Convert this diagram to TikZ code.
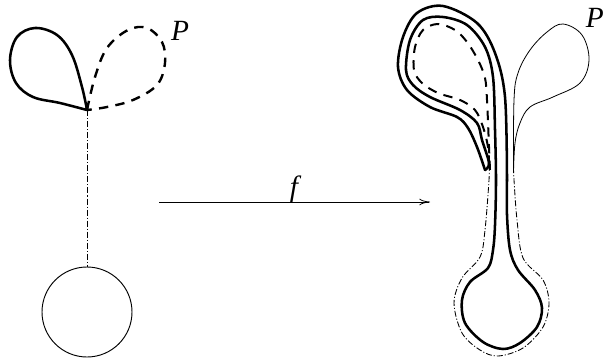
\documentclass[tikz,border=0pt]{standalone}
\usepackage{fontspec}
\usetikzlibrary{arrows.meta}
\setmainfont{Liberation Serif}
\tikzset{
 thickline/.style={line width=1.9pt,line join=round,line cap=round},
 dashline/.style={line width=1.8pt,dash pattern=on 7pt off 5.5pt},
 thinline/.style={line width=0.6pt,line join=round},
 dotdash/.style={line width=0.65pt,dash pattern=on 4.5pt off 1.5pt on 0.8pt off 1.5pt},
 lab/.style={inner sep=0pt,font=\fontsize{22}{22}\selectfont\itshape}
}
\begin{document}
\begin{tikzpicture}[x=0.75pt,y=-0.75pt]
\useasboundingbox (0,0) rectangle (605,360);
% left figure
\draw[thickline] plot[smooth,tension=0.6] coordinates {(87,110) (60,103) (33,97) (16,83) (10,60) (17,37) (35,28) (57,35) (72,55) (82,87) (87,110)};
\draw[dashline] plot[smooth,tension=0.6] coordinates {(87,110) (95,77) (107,48) (128,30) (147,28) (162,42) (165,63) (157,85) (133,100) (107,107) (87,110)};
\coordinate (junction) at (87,110);
\node[circle,draw,thinline,line width=0.7pt,minimum size=67.5pt,inner sep=0pt] (disc) at (87,312) {};
\draw[dotdash] (junction) -- (disc.north);
\node[lab] (pleft) at (180,31) {P};
% arrow
\coordinate (arrowstart) at (159,202);
\coordinate (arrowend) at (430,202);
\draw[thinline,-{To[length=8pt,width=5pt]}] (arrowstart) -- (arrowend);
\node[lab] (flabel) at (294,189) {f};
% right figure: thin loop
\draw[thinline] plot[smooth,tension=0.6] coordinates {(513.5,172) (514,100) (518,73) (530,50) (547,32) (563,24) (582,35) (589,60) (580,83) (553,97) (530,107) (520,123) (515,143) (513.5,172)};
% thick outline
\draw[thickline] plot[smooth,tension=0.55] coordinates {(507,180) (505,97) (495,53) (477,23) (443,6) (417,13) (403,37) (398,67) (407,90) (430,107) (457,117) (468,128) (477,147) (485,170)};
\draw[thickline] plot[smooth,tension=0.55] coordinates {(485,170) (489,163) (482,140) (477,123) (460,110) (430,97) (413,85) (406,70) (410,40) (423,20) (443,17) (467,25) (485,47) (493,77) (495,130) (496,180) (495,225) (493,250) (488,268) (470,282) (462,300) (465,323) (483,342) (503,349) (520,343) (537,327) (542,308) (535,290) (518,270) (510,250) (507,215) (507,180)};
% inner dashed
\draw[dashline,line width=1.5pt] plot[smooth,tension=0.55] coordinates {(490,170) (489,147) (487,100) (485,78) (478,60) (467,42) (455,30) (438,24) (423,30) (415,47) (414,70) (422,83) (438,93) (460,100) (475,110) (483,127) (488,147) (489,165)};
% outer dash-dot
\draw[dotdash] plot[smooth,tension=0.55] coordinates {(489,165) (489,180) (485,230) (480,257) (462,278) (454,303) (462,333) (480,350) (498,356) (523,348) (543,327) (549,303) (543,280) (523,258) (517,220) (514,180) (513.5,167)};
\node[lab,anchor=east] (pright) at (604,18) {P};
\end{tikzpicture}
\end{document}
